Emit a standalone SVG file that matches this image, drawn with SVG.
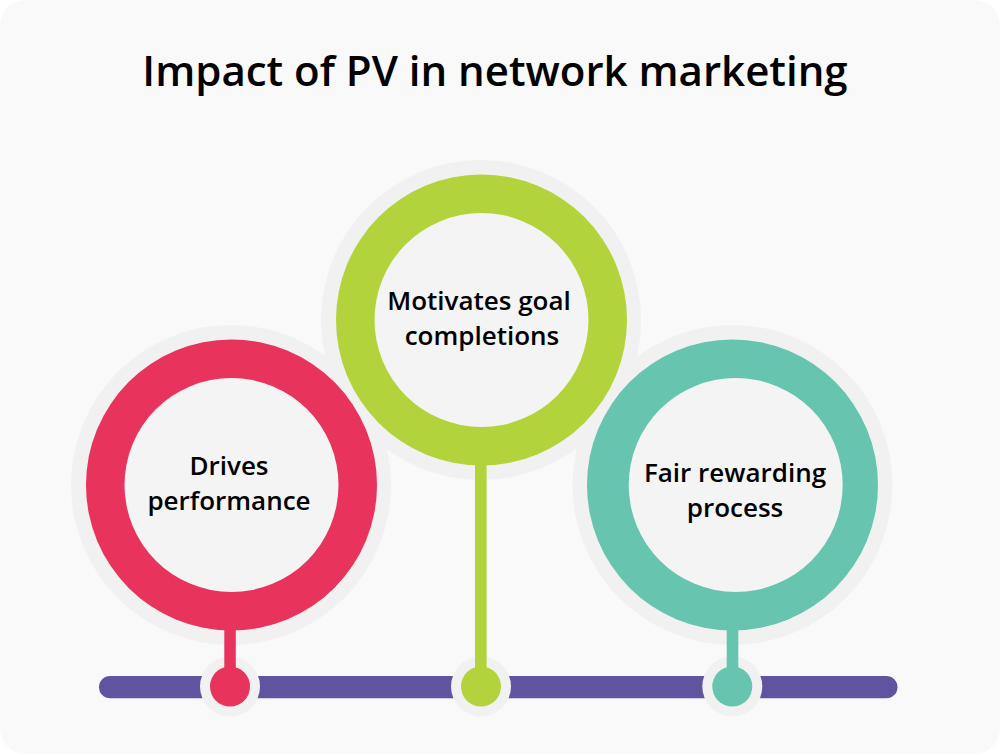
<svg xmlns="http://www.w3.org/2000/svg" width="1001" height="755" viewBox="0 0 1001 755">
<style>
.halo{fill:#f1f1f1}
.inner{fill:#f4f4f4}
text{font-family:"Open Sans","Noto Sans",sans-serif;font-weight:600;fill:#000;text-anchor:middle;font-size:26px}
.title{font-size:42px}
.pink{fill:#e8335d}
.lime{fill:#b3d33c}
.teal{fill:#66c4af}
</style>
<rect width="1001" height="755" fill="#ffffff"/>
<rect x="0" y="0" width="1000" height="754" rx="26" fill="#f9f9f9"/>
<text class="title" x="495" y="86">Impact of PV in network marketing</text>
<circle class="halo" cx="231" cy="485" r="160"/>
<circle class="halo" cx="732.500" cy="485" r="160"/>
<circle class="halo" cx="481" cy="320" r="160"/>
<rect x="99" y="676" width="798.500" height="22.300" rx="11.150" fill="#6054a0"/>
<circle class="halo" cx="230" cy="686.500" r="30"/>
<circle class="halo" cx="481" cy="686.500" r="30"/>
<circle class="halo" cx="732.300" cy="686.500" r="30"/>
<g id="connectors">
<rect class="pink" x="224.300" y="625" width="11.500" height="50"/>
<rect class="lime" x="475" y="460" width="11.600" height="215"/>
<rect class="teal" x="726.700" y="625" width="11.600" height="50"/>
</g>
<g id="node-drives">
<circle class="pink" cx="231.500" cy="485" r="145.500"/>
<circle class="inner" cx="231.500" cy="485" r="107"/>
<text x="229" y="475">Drives</text>
<text x="229" y="510">performance</text>
<circle class="pink" cx="230" cy="686.500" r="20"/>
</g>
<g id="node-motivates">
<circle class="lime" cx="481.500" cy="320" r="145.500"/>
<circle class="inner" cx="481.500" cy="320" r="107"/>
<text x="479" y="310">Motivates goal</text>
<text x="482" y="345">completions</text>
<circle class="lime" cx="481" cy="686.500" r="20"/>
</g>
<g id="node-fair">
<circle class="teal" cx="732.500" cy="485" r="145.500"/>
<circle class="inner" cx="735.700" cy="485" r="107"/>
<text x="735" y="482">Fair rewarding</text>
<text x="735" y="517">process</text>
<circle class="teal" cx="732.300" cy="686.500" r="20"/>
</g>
</svg>
